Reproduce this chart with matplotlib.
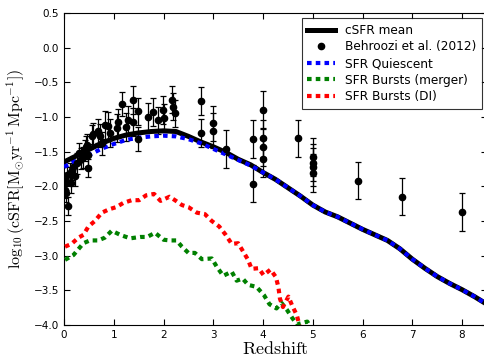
import numpy as np
import matplotlib
matplotlib.use('Agg')
import matplotlib.pyplot as plt

# ==============================
# Dados
# ==============================
z_linha = [0, 0.25, 0.5, 0.75, 1.0, 1.25, 1.5, 1.75, 2.0, 2.25, 2.5, 2.75, 3.0,
           3.25, 3.5, 3.75, 4.0, 4.25, 4.5, 4.75, 5.0, 5.25, 5.5, 5.75, 6.0,
           6.25, 6.5, 6.75, 7.0, 7.25, 7.5, 7.75, 8.0, 8.25, 8.5]
csfr_media = [-1.65, -1.56, -1.47, -1.38, -1.31, -1.26, -1.23, -1.21, -1.20,
              -1.21, -1.28, -1.36, -1.43, -1.51, -1.61, -1.69, -1.80, -1.90,
              -2.02, -2.14, -2.27, -2.37, -2.44, -2.53, -2.62, -2.70, -2.78,
              -2.90, -3.05, -3.18, -3.30, -3.40, -3.49, -3.59, -3.70]
sfr_quiescente = [-1.72, -1.63, -1.55, -1.46, -1.39, -1.33, -1.30, -1.28, -1.27,
                  -1.28, -1.32, -1.38, -1.46, -1.54, -1.62, -1.70, -1.80, -1.90,
                  -2.02, -2.14, -2.27, -2.37, -2.44, -2.53, -2.62, -2.70, -2.78,
                  -2.90, -3.05, -3.18, -3.30, -3.40, -3.49, -3.59, -3.70]

z_merger = [0.02, 0.19, 0.39, 0.52, 0.69, 0.82, 0.96, 1.13, 1.33, 1.53, 1.67,
            1.83, 2.0, 2.13, 2.26, 2.37, 2.50, 2.63, 2.77, 2.97, 3.07, 3.20,
            3.37, 3.47, 3.59, 3.70, 3.87, 4.02, 4.13, 4.27, 4.37, 4.48, 4.58,
            4.68, 4.89, 5.0]
sfr_merger = [-3.06, -2.99, -2.82, -2.78, -2.78, -2.74, -2.64, -2.70, -2.75,
              -2.73, -2.73, -2.67, -2.77, -2.78, -2.78, -2.87, -2.96, -2.96,
              -3.05, -3.04, -3.16, -3.29, -3.23, -3.36, -3.33, -3.42, -3.45,
              -3.57, -3.70, -3.76, -3.68, -3.78, -3.89, -3.99, -3.95, -4.1]

z_di = [0.02, 0.15, 0.29, 0.39, 0.49, 0.62, 0.76, 0.91, 1.05, 1.19, 1.36, 1.51,
        1.65, 1.81, 1.94, 2.12, 2.23, 2.37, 2.50, 2.67, 2.83, 2.97, 3.12, 3.25,
        3.37, 3.50, 3.70, 3.77, 3.91, 4.01, 4.15, 4.26, 4.31, 4.34, 4.40, 4.51,
        4.58, 4.68, 4.73, 4.8]
sfr_di = [-2.87, -2.83, -2.74, -2.70, -2.58, -2.50, -2.38, -2.33, -2.30, -2.24,
          -2.20, -2.20, -2.13, -2.11, -2.21, -2.15, -2.20, -2.27, -2.30, -2.38,
          -2.40, -2.50, -2.58, -2.70, -2.83, -2.82, -3.06, -3.19, -3.18, -3.28,
          -3.20, -3.31, -3.46, -3.62, -3.74, -3.59, -3.71, -3.86, -4.0, -4.1]

# Behroozi et al. (2012)
z_obs = [0.02, 0.03, 0.04, 0.06, 0.09, 0.12, 0.15, 0.17, 0.19, 0.22, 0.26, 0.30,
         0.35, 0.38, 0.42, 0.44, 0.46, 0.49, 0.49, 0.57, 0.59, 0.69, 0.72, 0.76,
         0.82, 0.88, 0.92, 1.06, 1.09, 1.16, 1.24, 1.29, 1.38, 1.38, 1.48, 1.48,
         1.68, 1.78, 1.88, 1.98, 2.00, 2.18, 2.20, 2.23, 2.75, 2.75, 2.99, 2.99,
         3.26, 3.79, 3.79, 3.99, 3.99, 3.99, 3.99, 4.70, 5.00, 5.00, 5.00, 5.00,
         5.90, 6.80, 8.00]
csfr_obs = [-2.05, -1.93, -2.10, -1.84, -2.28, -1.81, -1.95, -1.76, -1.72, -1.85,
            -1.67, -1.52, -1.60, -1.58, -1.48, -1.43, -1.40, -1.55, -1.74, -1.27,
            -1.24, -1.20, -1.27, -1.38, -1.12, -1.13, -1.23, -1.16, -1.08, -0.81,
            -1.15, -1.04, -0.755, -1.07, -0.92, -1.32, -1.00, -0.93, -1.05, -0.90,
            -1.02, -0.75, -0.85, -0.95, -0.765, -1.235, -1.09, -1.20, -1.46, -1.32,
            -1.96, -0.90, -1.31, -1.43, -1.60, -1.31, -1.58, -1.66, -1.72, -1.81,
            -1.92, -2.15, -2.37]
erro_obs = [0.12, 0.12, 0.12, 0.12, 0.13, 0.15, 0.15, 0.15, 0.15, 0.15, 0.15, 0.15,
            0.15, 0.15, 0.15, 0.15, 0.15, 0.15, 0.13, 0.15, 0.15, 0.17, 0.17, 0.17,
            0.2, 0.2, 0.2, 0.2, 0.2, 0.17, 0.2, 0.2, 0.2, 0.2, 0.2, 0.17,
            0.2, 0.2, 0.2, 0.2, 0.2, 0.2, 0.2, 0.2, 0.2, 0.2, 0.25, 0.25,
            0.27, 0.27, 0.27, 0.27, 0.27, 0.27, 0.27, 0.27, 0.27, 0.27, 0.27, 0.27,
            0.27, 0.27, 0.27]

# ==============================
# Plotar grafico
# ==============================
plt.rcParams['mathtext.fontset'] = 'cm'
plt.rcParams['xtick.direction'] = 'in'
plt.rcParams['ytick.direction'] = 'in'

fig = plt.figure(figsize=(4.85, 3.58), dpi=100)
ax = fig.add_axes([0.132, 0.092, 0.872, 0.872])

ax.errorbar(z_obs, csfr_obs, yerr=erro_obs, fmt='none', ecolor='black',
            elinewidth=0.9, capsize=2.5, capthick=0.9, zorder=3)
ax.plot(z_linha, csfr_media, color='black', lw=3.6, label='cSFR mean', zorder=2)
ax.plot(z_obs, csfr_obs, 'o', color='black', ms=4.5,
        label='Behroozi et al. (2012)', zorder=4)
ax.plot(z_linha, sfr_quiescente, color='blue', lw=3, ls=(0, (1.1, 1)),
        label='SFR Quiescent', zorder=3)
ax.plot(z_merger, sfr_merger, color='green', lw=3, ls=(0, (1.1, 1)),
        label='SFR Bursts (merger)', zorder=3)
ax.plot(z_di, sfr_di, color='red', lw=3, ls=(0, (1.1, 1)),
        label='SFR Bursts (DI)', zorder=3)

ax.set_xlim(0, 8.5)
ax.set_ylim(-4.0, 0.5)
ax.set_xticks(range(0, 9))
ax.set_yticks(np.arange(-4.0, 0.51, 0.5))
ax.tick_params(top=True, right=True, labelsize=7.5, length=4, width=0.8)

ax.set_xlabel(r'$\mathrm{Redshift}$', fontsize=13, labelpad=0)
ax.set_ylabel(r'$\log_{10}(\mathrm{cSFR}[\mathrm{M_{\odot}yr^{-1}\,Mpc^{-1}}])$',
              fontsize=11.5, labelpad=5)

leg = ax.legend(loc='upper right', fontsize=8.7, numpoints=1, fancybox=False,
                handlelength=2.3, labelspacing=0.3, borderaxespad=0.45,
                borderpad=0.45)
leg.get_frame().set_edgecolor('black')
leg.get_frame().set_linewidth(0.8)

fig.savefig('out.png', dpi=100)
